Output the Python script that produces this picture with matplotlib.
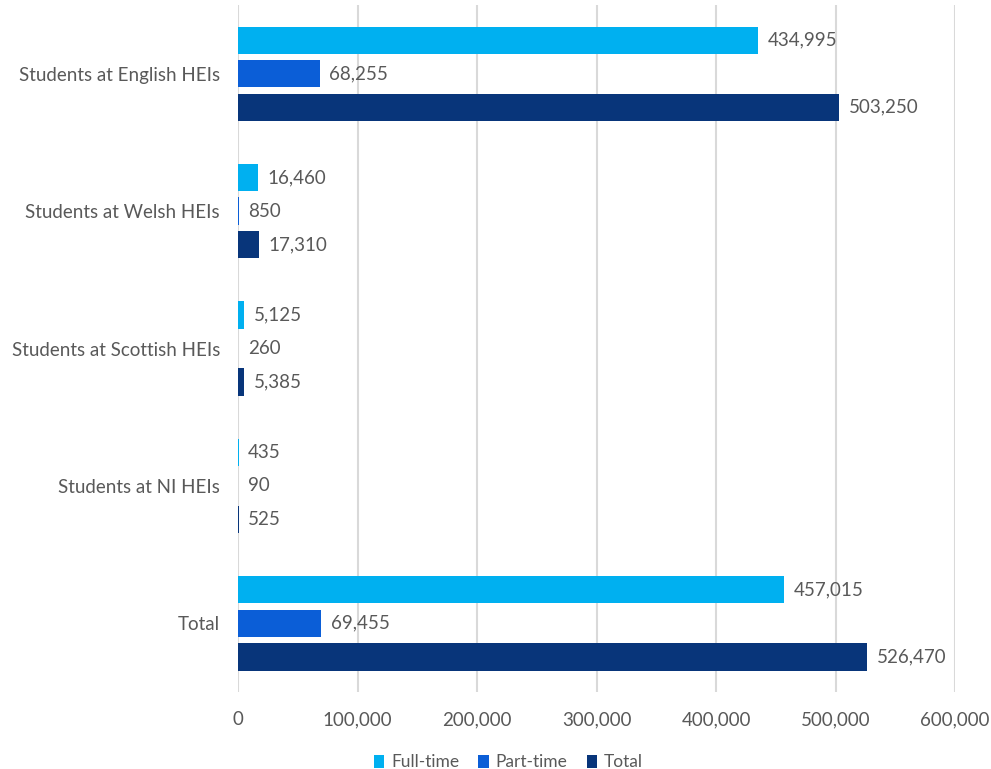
import numpy as np
import matplotlib.pyplot as plt
from matplotlib.ticker import FuncFormatter

# 학생 수 데이터
categories = ['Students at English HEIs', 'Students at Welsh HEIs',
              'Students at Scottish HEIs', 'Students at NI HEIs', 'Total']
full_time = [434995, 16460, 5125, 435, 457015]
part_time = [68255, 850, 260, 90, 69455]
total = [503250, 17310, 5385, 525, 526470]

series = [('Full-time', full_time, '#00B0F0'),
          ('Part-time', part_time, '#0B5ED7'),
          ('Total', total, '#08357A')]

plt.rcParams['font.family'] = ['Lato', 'DejaVu Sans']
text_color = '#595959'
fs = 13.5

fig = plt.figure(figsize=(9.91, 7.69), dpi=100)
ax = fig.add_axes([0.2402, 0.1001, 0.7235, 0.8934])

y = np.arange(len(categories))
offsets = [-0.244, 0, 0.244]
bar_h = 0.199

for (name, vals, color), off in zip(series, offsets):
    bars = ax.barh(y + off, vals, height=bar_h, color=color, label=name,
                   linewidth=0, zorder=3)
    for b, v in zip(bars, vals):
        ax.text(v + 8000, b.get_y() + b.get_height() / 2, f'{v:,}',
                va='center', ha='left', fontsize=fs, color=text_color)

ax.set_ylim(len(categories) - 0.5, -0.5)
ax.set_xlim(0, 600000)
ax.set_xticks(range(0, 600001, 100000))
ax.xaxis.set_major_formatter(FuncFormatter(lambda v, p: f'{int(v):,}'))
ax.set_yticks(y)
ax.set_yticklabels(categories)
ax.tick_params(axis='both', length=0, labelsize=fs, labelcolor=text_color)
ax.tick_params(axis='x', pad=14)
ax.tick_params(axis='y', pad=13)

ax.grid(axis='x', color='#D9D9D9', linewidth=1.5, zorder=0)
for s in ax.spines.values():
    s.set_visible(False)

leg = fig.legend(loc='lower center', bbox_to_anchor=(0.513, -0.022), ncol=3,
                 frameon=False, fontsize=12.5, handlelength=0.6, handleheight=0.75,
                 handletextpad=0.4, columnspacing=1.1)
for t in leg.get_texts():
    t.set_color(text_color)

fig.savefig('out.png', dpi=100)
